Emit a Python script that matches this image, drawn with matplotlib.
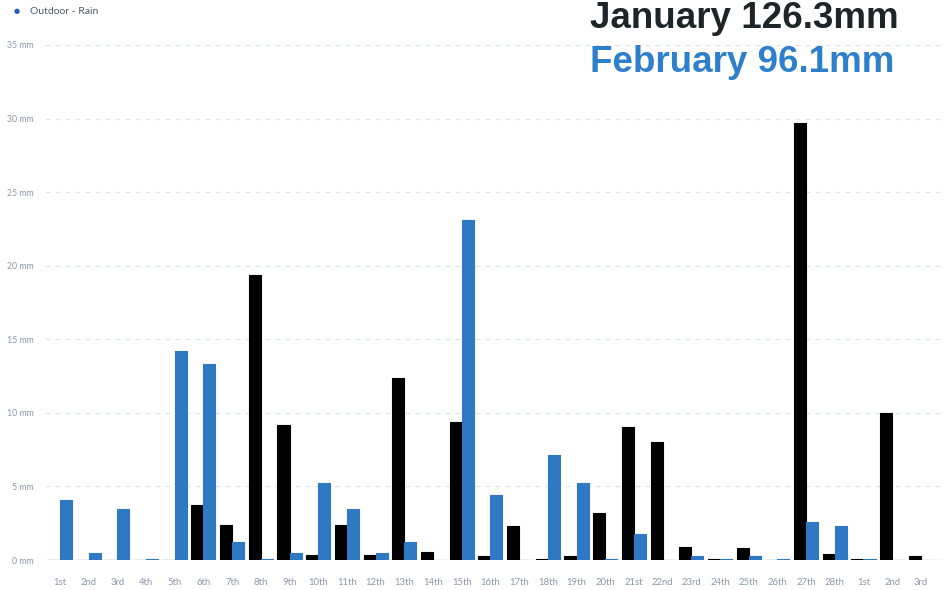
import matplotlib.pyplot as plt
import numpy as np

# day labels (rolling window: Jan/Feb days 1..28, then 1st-3rd)
days = ['1st', '2nd', '3rd', '4th', '5th', '6th', '7th', '8th', '9th', '10th',
        '11th', '12th', '13th', '14th', '15th', '16th', '17th', '18th', '19th', '20th',
        '21st', '22nd', '23rd', '24th', '25th', '26th', '27th', '28th', '1st', '2nd', '3rd']

# rain in mm
january = [0, 0, 0, 0, 0, 3.75, 2.4, 19.4, 9.2, 0.35,
           2.4, 0.35, 12.35, 0.55, 9.35, 0.3, 2.3, 0.05, 0.3, 3.2,
           9.05, 8.05, 0.9, 0.05, 0.8, 0, 29.7, 0.4, 0.05, 10.0, 0.25]
february = [4.1, 0.5, 3.45, 0.1, 14.2, 13.3, 1.25, 0.1, 0.45, 5.25,
            3.45, 0.45, 1.25, 0, 23.1, 4.45, 0, 7.15, 5.25, 0.05,
            1.8, 0, 0.3, 0.05, 0.3, 0.1, 2.55, 2.3, 0.05, 0, 0]

yticks = [0, 5, 10, 15, 20, 25, 30, 35]

black = '#000000'
blue = '#2f78c4'
label_col = '#8d98ab'

fig = plt.figure(figsize=(9.45, 5.9), dpi=100)
ax = fig.add_axes([45 / 945, 1 - 560 / 590, 900 / 945, (560 - 45) / 590])

x = np.arange(len(days))
w = 0.42
ax.bar(x - w / 2, january, width=w, color=black, edgecolor=black,
       linewidth=0.8, joinstyle='round', zorder=3)
ax.bar(x + w / 2, february, width=w, color=blue, edgecolor=blue,
       linewidth=0.8, joinstyle='round', zorder=3)

ax.set_xlim(-0.52, 30.84)
ax.set_ylim(0, 35)

# dashed grid + light baseline
for y in yticks[1:]:
    ax.axhline(y, color='#dfe3ea', linestyle=(0, (4, 4)), linewidth=0.9, zorder=1)
ax.axhline(0, color='#d6dbe3', linewidth=1.0, zorder=2)

for s in ax.spines.values():
    s.set_visible(False)

ax.set_yticks(yticks)
ax.set_yticklabels([f'{v} mm' for v in yticks], fontsize=6.3, color=label_col,
                   family='Lato')
ax.set_xticks(x)
ax.set_xticklabels(days, fontsize=6.8, color=label_col, family='Lato')
ax.tick_params(axis='both', length=0)
ax.tick_params(axis='x', pad=13)
ax.tick_params(axis='y', pad=8)

# legend-like header
fig.text(17 / 945, 1 - 11 / 590, '\u25cf', fontsize=5, color='#2a5cb8',
         ha='center', va='center')
fig.text(30 / 945, 1 - 11 / 590, 'Outdoor - Rain', fontsize=7.5, color='#4f5a6e',
         ha='left', va='center', family='Lato')

# totals
fig.text(744 / 945, 1 - 28 / 590, 'January 126.3mm', fontsize=26.5,
         fontweight='bold', color='#1e2529', ha='center', va='baseline',
         family='Liberation Sans')
fig.text(742 / 945, 1 - 72 / 590, 'February 96.1mm', fontsize=26.5,
         fontweight='bold', color='#2f80cc', ha='center', va='baseline',
         family='Liberation Sans')

fig.savefig('out.png', dpi=100)
